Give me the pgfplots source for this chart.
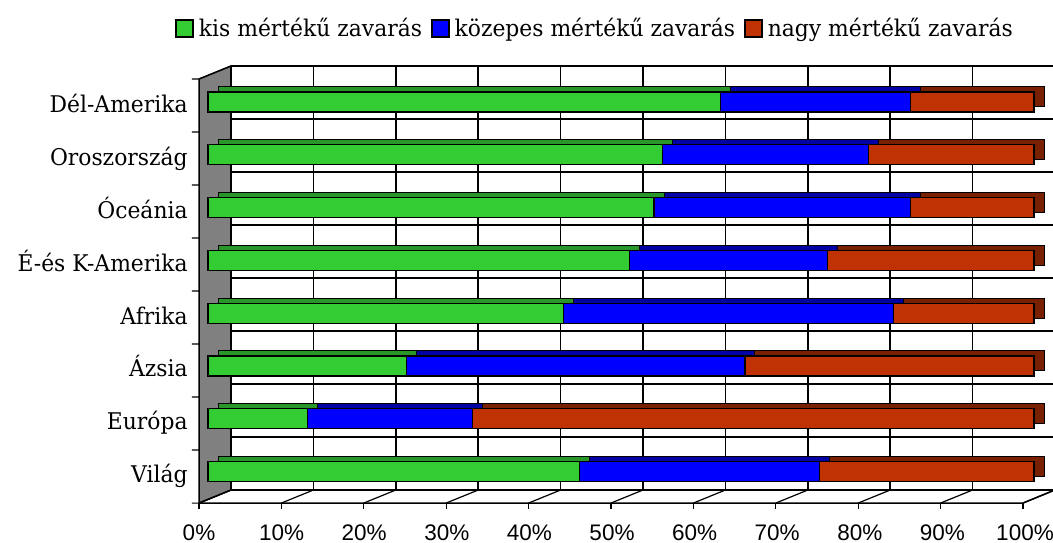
\documentclass[border=0pt]{standalone}
\usepackage{pgfplots}
\pgfplotsset{compat=1.18}
\usepackage{pgfplotstable}
\usepackage{fontspec}
\setmainfont{DejaVu Serif}[FakeStretch=0.95]
\newfontfamily\ticksans{Liberation Sans}
\newcommand\catfont{\fontsize{11.5pt}{13pt}\selectfont}
\newcommand\tickfont{\ticksans\fontsize{11.25pt}{13pt}\selectfont}

\definecolor{kisgreen}{RGB}{51,204,51}
\definecolor{kozblue}{RGB}{0,0,255}
\definecolor{nagyred}{RGB}{192,50,4}
\definecolor{kisgreenD}{RGB}{40,150,40}
\definecolor{kozblueD}{RGB}{0,0,165}
\definecolor{nagyredD}{RGB}{120,32,0}
\definecolor{wallgray}{RGB}{128,128,128}

\pgfplotstableread{
cat kis kozepes nagy
0 45 29 26
1 12 20 68
2 24 41 35
3 43 40 17
4 51 24 25
5 54 31 15
6 55 25 20
7 62 23 15
}\data

\pgfplotsset{base/.style={
  scale only axis, width=413pt, height=219.1pt,
  xmin=0, xmax=100, ymin=-0.6, ymax=7.7, clip=false,
  axis line style={draw=none}, major tick length=0pt,
  xbar stacked, bar width=10pt}}

\begin{document}
\begin{tikzpicture}
\path[use as bounding box] (0,0) rectangle (526.5pt,271pt);
% walls and grid
\begin{axis}[base, hide axis, at={(104pt,19.4pt)}, anchor=south west]
  \pgfplotsinvokeforeach{0,...,10}{
    \draw[line width=0.75pt] (axis cs:{2.785+9.976*#1},-0.35) -- (axis cs:{2.785+9.976*#1},7.681);
    \draw[line width=0.6pt] (axis cs:{2.785+9.976*#1},-0.35) -- (axis cs:{-1.09+9.976*#1},-0.597);
    \draw[line width=0.6pt] (axis cs:{-1.09+9.976*#1},-0.597) -- (axis cs:{-1.09+9.976*#1},-0.711);
  }
  \pgfplotsinvokeforeach{0,...,8}{
    \draw[line width=0.75pt] (axis cs:2.785,{7.681-1.004*#1}) -- (axis cs:102.4,{7.681-1.004*#1});
  }
  \filldraw[fill=wallgray, line width=0.75pt] (axis cs:-1.09,-0.597) -- (axis cs:-1.09,7.434) -- (axis cs:2.785,7.681) -- (axis cs:2.785,-0.35) -- cycle;
  \pgfplotsinvokeforeach{0,...,8}{
    \draw[line width=0.6pt] (axis cs:2.785,{7.681-1.004*#1}) -- (axis cs:-1.09,{7.434-1.004*#1}) -- (axis cs:-1.94,{7.434-1.004*#1});
  }
  \draw[line width=0.75pt] (axis cs:-1.09,-0.597) -- (axis cs:98.67,-0.597) -- (axis cs:102.5,-0.35);
\end{axis}
% bar depth (top and side faces)
\begin{axis}[base, hide axis, at={(109pt,21.9pt)}, anchor=south west]
  \addplot[fill=kisgreenD, draw=black, line width=0.5pt] table[x=kis, y=cat] {\data};
  \addplot[fill=kozblueD, draw=black, line width=0.5pt] table[x=kozepes, y=cat] {\data};
  \addplot[fill=nagyredD, draw=black, line width=0.5pt] table[x=nagy, y=cat] {\data};
\end{axis}
% front faces, labels, legend
\begin{axis}[base, at={(104pt,19.4pt)}, anchor=south west,
  xtick={0,10,...,100},
  xticklabels={0\%,10\%,20\%,30\%,40\%,50\%,60\%,70\%,80\%,90\%,100\%},
  xticklabel style={font=\tickfont, anchor=base, inner sep=0pt, xshift=-4.5pt, yshift=-18.4pt},
  ytick={0,...,7},
  yticklabels={Világ,Európa,Ázsia,Afrika,É-és K-Amerika,Óceánia,Oroszország,Dél-Amerika},
  yticklabel style={font=\catfont, anchor=base east, inner sep=0pt, xshift=-10pt, yshift=-5.5pt},
  legend columns=3,
  legend image code/.code={\draw[#1, draw=black, line width=0.8pt] (0pt,-4.25pt) rectangle (8.5pt,4.25pt);},
  legend style={at={(-0.040,1.083)}, anchor=west, draw=none, fill=none, inner sep=0pt,
    font=\catfont, nodes={inner sep=0pt},
    /tikz/every odd column/.append style={column sep=2.5pt},
    /tikz/every even column/.append style={column sep=4.5pt}},
  ]
  \addplot[fill=kisgreen, draw=black, line width=0.6pt] table[x=kis, y=cat] {\data};
  \addlegendentry{kis mértékű zavarás}
  \addplot[fill=kozblue, draw=black, line width=0.6pt] table[x=kozepes, y=cat] {\data};
  \addlegendentry{közepes mértékű zavarás}
  \addplot[fill=nagyred, draw=black, line width=0.6pt] table[x=nagy, y=cat] {\data};
  \addlegendentry{nagy mértékű zavarás}
\end{axis}
\end{tikzpicture}
\end{document}
